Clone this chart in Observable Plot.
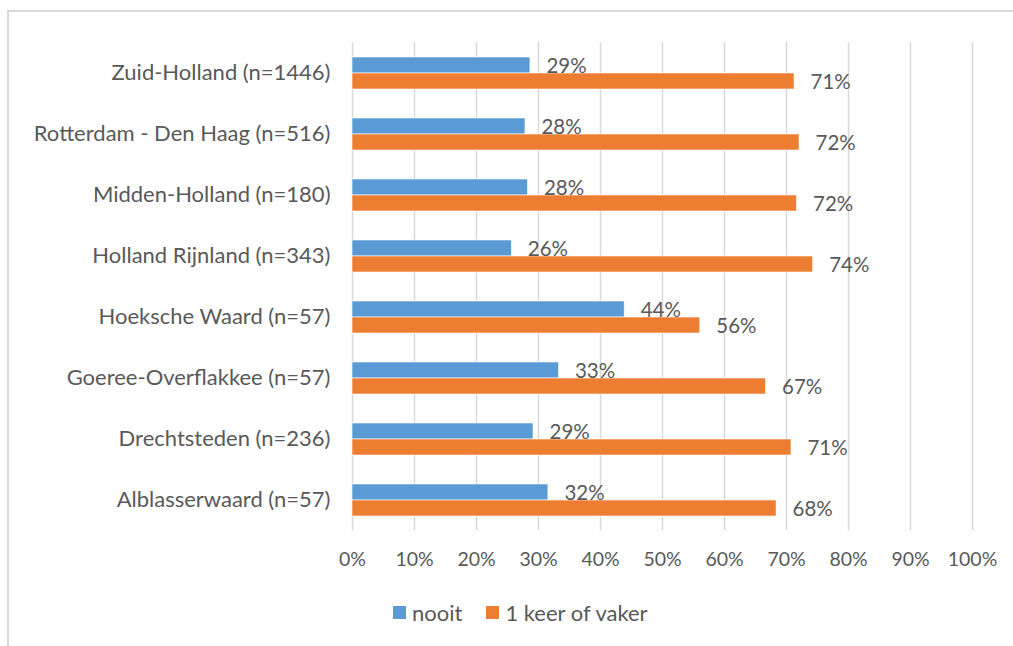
<!DOCTYPE html>
<html>
<head>
<meta charset="utf-8">
<script src="https://cdn.jsdelivr.net/npm/d3@7"></script>
<script src="https://cdn.jsdelivr.net/npm/@observablehq/plot@0.6"></script>
<style>
  html, body { margin: 0; padding: 0; background: #fff; overflow: hidden; }
  #wrap { position: relative; width: 1013px; height: 646px; font-family: Lato, "Open Sans", sans-serif; color: #595959; }
  #frame { position: absolute; left: 7px; top: 10px; width: 1100px; height: 700px; border: 2px solid #d9d9d9; box-sizing: border-box; }
  #chart { position: absolute; left: 0; top: 0; }
  #legend { position: absolute; left: 393px; top: 599px; display: flex; align-items: center; font-size: 22px; color: #595959; }
  #legend .sw { width: 13px; height: 13px; display: inline-block; margin-right: 6px; }
  #legend .item { display: flex; align-items: center; margin-right: 24px; }
</style>
</head>
<body>
<div id="wrap">
  <div id="frame"></div>
  <div id="chart"></div>
  <div id="legend"></div>
</div>
<script>
const categories = [
  "Zuid-Holland (n=1446)",
  "Rotterdam - Den Haag (n=516)",
  "Midden-Holland (n=180)",
  "Holland Rijnland (n=343)",
  "Hoeksche Waard (n=57)",
  "Goeree-Overflakkee (n=57)",
  "Drechtsteden (n=236)",
  "Alblasserwaard (n=57)"
];
const series = ["nooit", "1 keer of vaker"];
const colors = ["#5B9BD5", "#ED7D31"];
const nooit = [28.7, 27.9, 28.3, 25.7, 43.9, 33.3, 29.2, 31.6];
const vaker = [71.3, 72.1, 71.7, 74.3, 56.1, 66.7, 70.8, 68.4];
const xTicks = [0, 10, 20, 30, 40, 50, 60, 70, 80, 90, 100];

const data = [];
categories.forEach((c, i) => {
  data.push({category: c, series: series[0], value: nooit[i]});
  data.push({category: c, series: series[1], value: vaker[i]});
});

const chart = Plot.plot({
  width: 1013,
  height: 590,
  marginLeft: 352,
  marginRight: 41,
  marginTop: 41,
  marginBottom: 60,
  style: {fontFamily: "Lato, 'Open Sans', sans-serif", fontSize: "20px", color: "#595959", background: "transparent"},
  x: {domain: [0, 100]},
  fy: {domain: categories, padding: 0},
  y: {domain: series, axis: null, paddingInner: 0, paddingOuter: 0.906},
  color: {domain: series, range: colors},
  marks: [
    Plot.gridX(xTicks, {stroke: "#d9d9d9", strokeOpacity: 1, strokeWidth: 1.5}),
    Plot.axisX({ticks: xTicks, tickFormat: d => d + "%", tickSize: 0, tickPadding: 22, fontSize: 19.5, label: null, fill: "#595959"}),
    Plot.axisFy({anchor: "left", tickSize: 0, tickPadding: 22, fontSize: 22, label: null, fill: "#595959"}),
    Plot.barX(data, {x: "value", y: "series", fy: "category", fill: "series", stroke: "white", strokeWidth: 0.6}),
    Plot.text(data, {x: "value", y: "series", fy: "category", text: d => Math.round(d.value) + "%", textAnchor: "start", dx: 16, dy: 1, fill: "#595959", fontSize: 20.5})
  ]
});
document.getElementById("chart").appendChild(chart);

const legend = document.getElementById("legend");
series.forEach((s, i) => {
  const item = document.createElement("div");
  item.className = "item";
  const sw = document.createElement("span");
  sw.className = "sw";
  sw.style.background = colors[i];
  const t = document.createElement("span");
  t.textContent = s;
  item.appendChild(sw);
  item.appendChild(t);
  legend.appendChild(item);
});
</script>
</body>
</html>
